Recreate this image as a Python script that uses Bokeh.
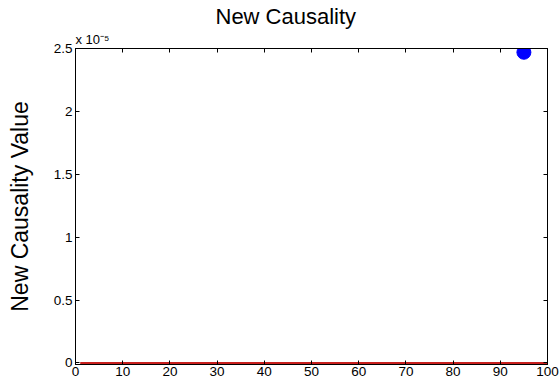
from bokeh.plotting import figure
from bokeh.models import Range1d, LinearAxis, CustomJSTickFormatter, FixedTicker, Title
from bokeh.embed import file_html
from bokeh.resources import INLINE

# data
line_x = list(range(1, 101))
line_y = [0.0] * 100
point_x = [95]
point_y = [2.47e-5]
x_ticks = [0, 10, 20, 30, 40, 50, 60, 70, 80, 90, 100]
y_ticks = [0, 0.5e-5, 1.0e-5, 1.5e-5, 2.0e-5, 2.5e-5]

FONT = "Liberation Sans"

p = figure(width=560, height=382, output_backend="svg", toolbar_location=None,
           x_range=Range1d(0, 100), y_range=Range1d(-0.012e-5, 2.5e-5),
           min_border_left=75, min_border_right=13, min_border_top=48, min_border_bottom=18)

p.title.text = "New Causality"
p.title.text_font = FONT
p.title.text_font_size = "22px"
p.title.text_font_style = "normal"
p.title.text_color = "black"
p.title.align = "left"
p.title.offset = 140
p.title.standoff = 0
p.title.text_line_height = 0.8

p.grid.visible = False
p.outline_line_color = "black"
p.outline_line_width = 1

fmt = CustomJSTickFormatter(code="const v = Math.round(tick*1e6)/10; return v.toString();")
blank = CustomJSTickFormatter(code="return '';")

for ax in [p.xaxis[0], p.yaxis[0]]:
    ax.major_tick_in = 4
    ax.major_tick_out = 0
    ax.minor_tick_in = 0
    ax.minor_tick_out = 0
    ax.major_label_text_font = FONT
    ax.major_label_text_font_size = "13.5px"
    ax.major_label_text_color = "black"
    ax.axis_line_color = "black"
    ax.major_tick_line_color = "black"

p.xaxis[0].ticker = FixedTicker(ticks=x_ticks)
p.xaxis[0].major_label_standoff = 2
p.yaxis[0].ticker = FixedTicker(ticks=y_ticks)
p.yaxis[0].formatter = fmt
p.yaxis[0].major_label_standoff = 3
p.yaxis[0].axis_label = "New Causality Value"
p.yaxis[0].axis_label_text_font = FONT
p.yaxis[0].axis_label_text_font_size = "23px"
p.yaxis[0].axis_label_text_font_style = "normal"
p.yaxis[0].axis_label_text_color = "black"
p.yaxis[0].axis_label_standoff = 18

top = LinearAxis(ticker=FixedTicker(ticks=x_ticks), formatter=blank, major_tick_in=4, major_tick_out=0,
                 minor_tick_in=0, minor_tick_out=0, major_label_standoff=0)
right = LinearAxis(ticker=FixedTicker(ticks=y_ticks), formatter=blank, major_tick_in=4, major_tick_out=0,
                   minor_tick_in=0, minor_tick_out=0, major_label_standoff=0)
p.add_layout(top, "above")
p.add_layout(right, "right")

p.add_layout(Title(text="x 10\u207b\u2075", align="left", offset=0, standoff=3,
                   text_font=FONT, text_font_size="13px", text_font_style="normal",
                   text_color="black"), "above")

p.line(line_x, line_y, line_color="#c8201e", line_width=2)
p.scatter(point_x, point_y, size=14, fill_color="#0000ff", line_color="#0000ff")

open("out.html", "w").write(file_html(p, INLINE))
